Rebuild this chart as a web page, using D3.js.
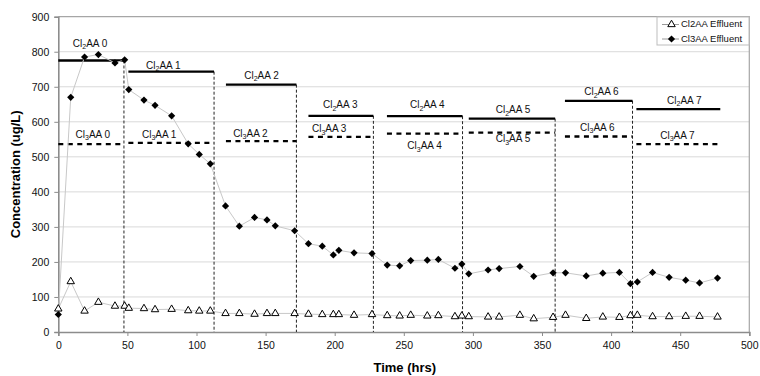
<!DOCTYPE html>
<html>
<head>
<meta charset="utf-8">
<script src="https://cdn.jsdelivr.net/npm/d3@7"></script>
<style>
  body { margin: 0; background: #fff; }
  svg { display: block; font-family: Arial, "Liberation Sans", sans-serif; }
</style>
</head>
<body>
<div id="chart"></div>
<script>
// sampling times (hrs)
const times = [0, 9, 19, 29, 41, 48, 51, 62, 70, 82, 94, 102, 110, 121, 131, 142, 151, 157, 171, 181,
  191, 199, 203, 214, 227, 238, 247, 255, 267, 275, 287, 292, 297, 311, 319, 334, 344, 358, 367,
  382, 394, 406, 414, 419, 430, 442, 454, 464, 477];

// effluent concentrations (ug/L)
const cl2aaEffluent = [66, 144, 60, 85, 74, 74, 68, 67, 64, 65, 61, 60, 60, 53, 53, 51, 53, 53, 53, 51,
  50, 50, 50, 48, 50, 47, 46, 48, 46, 47, 44, 46, 44, 43, 43, 48, 38, 42, 48,
  39, 43, 42, 47, 48, 44, 44, 45, 45, 43];
const cl3aaEffluent = [50, 670, 785, 792, 768, 777, 692, 662, 647, 617, 537, 507, 480, 360, 302, 327, 320, 303, 289, 252,
  245, 220, 233, 226, 224, 191, 189, 204, 205, 207, 182, 194, 166, 177, 181, 187, 159, 169, 169,
  160, 168, 170, 138, 143, 170, 156, 148, 140, 154];

// influent stages
const stageNames = ['0', '1', '2', '3', '4', '5', '6', '7'];
const stageStart = [0, 50.7, 121.3, 181, 237.8, 297, 366.6, 418.3];
const stageEnd = [47.5, 112.7, 172.3, 228, 292.5, 359.5, 415.5, 479];
const cl2aaInfluent = [775, 743, 706, 617, 616, 609, 660, 636];
const cl3aaInfluent = [536, 540, 545, 557, 566, 569, 558, 536];

// where the stage labels sit (hrs, ug/L)
const cl2aaLabelX = [23, 76, 147, 204, 267, 329, 393, 453];
const cl2aaLabelY = [824, 762, 733, 648, 648, 635, 686, 662];
const cl3aaLabelX = [25, 73, 139, 196, 265, 329, 390, 448];
const cl3aaLabelY = [564, 564, 567, 580, 532, 551, 584, 562];

const xTicks = d3.range(0, 501, 50);
const yTicks = d3.range(0, 901, 100);

const width = 760;
const height = 376;

const svg = d3.select('#chart')
  .append('svg')
  .attr('width', width)
  .attr('height', height);

const x = d3.scaleLinear().domain([0, 500]).range([58.3, 749.3]);
const y = d3.scaleLinear().domain([0, 900]).range([332, 16.7]);

// gridlines
svg.append('g')
  .selectAll('line')
  .data(yTicks.slice(1, -1))
  .enter()
  .append('line')
  .attr('x1', x(0))
  .attr('x2', x(500))
  .attr('y1', d => y(d))
  .attr('y2', d => y(d))
  .attr('stroke', '#d9d9d9')
  .attr('stroke-width', 1);

// frame (top + right)
svg.append('path')
  .attr('d', `M${x(0)},${y(900)}H${x(500)}V${y(0)}`)
  .attr('fill', 'none')
  .attr('stroke', '#a6a6a6')
  .attr('stroke-width', 1.2);

// axes
const xAxis = svg.append('g')
  .attr('transform', `translate(0, ${y(0)})`)
  .call(d3.axisBottom(x).tickValues(xTicks).tickSize(4).tickPadding(6).tickFormat(d3.format('d')));

const yAxis = svg.append('g')
  .attr('transform', `translate(${x(0)}, 0)`)
  .call(d3.axisLeft(y).tickValues(yTicks).tickSize(4).tickPadding(5).tickFormat(d3.format('d')));

[xAxis, yAxis].forEach(a => {
  a.select('.domain').attr('stroke', '#8c8c8c').attr('stroke-width', 1.6);
  a.selectAll('.tick line').attr('stroke', '#8c8c8c');
  a.selectAll('.tick text')
    .attr('fill', '#111')
    .attr('font-size', 10.5)
    .attr('font-family', 'Arial, "Liberation Sans", sans-serif');
});

// axis titles
svg.append('text')
  .attr('x', x(250) + 1)
  .attr('y', 369)
  .attr('text-anchor', 'middle')
  .attr('dominant-baseline', 'middle')
  .attr('font-size', 13)
  .attr('font-weight', 'bold')
  .text('Time (hrs)');

svg.append('text')
  .attr('transform', `translate(17, ${(y(0) + y(900)) / 2}) rotate(-90)`)
  .attr('text-anchor', 'middle')
  .attr('dominant-baseline', 'middle')
  .attr('font-size', 13)
  .attr('font-weight', 'bold')
  .text('Concentration (ug/L)');

// stage boundaries
svg.append('g')
  .selectAll('line')
  .data(stageNames.slice(0, -1))
  .enter()
  .append('line')
  .attr('x1', (d, i) => x(stageEnd[i]))
  .attr('x2', (d, i) => x(stageEnd[i]))
  .attr('y1', (d, i) => y(cl2aaInfluent[i]))
  .attr('y2', y(0))
  .attr('stroke', '#222')
  .attr('stroke-width', 1)
  .attr('stroke-dasharray', '3,2');

// influent levels
svg.append('g')
  .selectAll('line')
  .data(stageNames)
  .enter()
  .append('line')
  .attr('x1', (d, i) => x(stageStart[i]))
  .attr('x2', (d, i) => x(stageEnd[i]))
  .attr('y1', (d, i) => y(cl2aaInfluent[i]))
  .attr('y2', (d, i) => y(cl2aaInfluent[i]))
  .attr('stroke', '#000')
  .attr('stroke-width', 2.3);

svg.append('g')
  .selectAll('line')
  .data(stageNames)
  .enter()
  .append('line')
  .attr('x1', (d, i) => x(stageStart[i]))
  .attr('x2', (d, i) => x(stageEnd[i]))
  .attr('y1', (d, i) => y(cl3aaInfluent[i]))
  .attr('y2', (d, i) => y(cl3aaInfluent[i]))
  .attr('stroke', '#000')
  .attr('stroke-width', 2.3)
  .attr('stroke-dasharray', '5,4.5');

// stage labels with subscripts
function stageLabel(g, sub, name, lx, ly) {
  const t = g.append('text')
    .attr('x', x(lx))
    .attr('y', y(ly) + 3.5)
    .attr('text-anchor', 'middle')
    .attr('font-size', 10)
    .attr('fill', '#111');
  t.append('tspan').text('Cl');
  t.append('tspan').attr('font-size', 7).attr('dy', 2.5).text(sub);
  t.append('tspan').attr('dy', -2.5).text('AA ' + name);
}

const labels = svg.append('g');
stageNames.forEach((n, i) => {
  stageLabel(labels, '2', n, cl2aaLabelX[i], cl2aaLabelY[i]);
  stageLabel(labels, '3', n, cl3aaLabelX[i], cl3aaLabelY[i]);
});

// effluent series
const cl2Data = times.map((t, i) => ({ t: t, v: cl2aaEffluent[i] }));
const cl3Data = times.map((t, i) => ({ t: t, v: cl3aaEffluent[i] }));

const line = d3.line().x(d => x(d.t)).y(d => y(d.v));

[cl3Data, cl2Data].forEach(data => {
  svg.append('path')
    .datum(data)
    .attr('d', line)
    .attr('fill', 'none')
    .attr('stroke', '#c8c8c8')
    .attr('stroke-width', 1);
});

const diamond = d3.symbol(d3.symbolSquare, 26);
const triangle = d3.symbol(d3.symbolTriangle, 24);

svg.append('g')
  .selectAll('path')
  .data(cl3Data)
  .enter()
  .append('path')
  .attr('d', diamond)
  .attr('transform', d => `translate(${x(d.t)}, ${y(d.v)}) rotate(45)`)
  .attr('fill', '#000');

svg.append('g')
  .selectAll('path')
  .data(cl2Data)
  .enter()
  .append('path')
  .attr('d', triangle)
  .attr('transform', d => `translate(${x(d.t)}, ${y(d.v)})`)
  .attr('fill', '#fff')
  .attr('stroke', '#000')
  .attr('stroke-width', 1);

// legend
const legendNames = ['Cl2AA Effluent', 'Cl3AA Effluent'];
const legend = svg.append('g')
  .attr('transform', 'translate(657, 17)');

legend.append('rect')
  .attr('width', 92)
  .attr('height', 28)
  .attr('fill', '#fff')
  .attr('stroke', '#bdbdbd')
  .attr('stroke-width', 1);

const item = legend.selectAll('g')
  .data(legendNames)
  .enter()
  .append('g')
  .attr('transform', (d, i) => `translate(0, ${7.5 + i * 14.5})`);

item.append('line')
  .attr('x1', 5)
  .attr('x2', 22)
  .attr('stroke', '#999')
  .attr('stroke-width', 1);

item.append('path')
  .attr('d', (d, i) => i === 0 ? triangle() : diamond())
  .attr('transform', (d, i) => `translate(14.5, 0)${i === 0 ? '' : ' rotate(45)'}`)
  .attr('fill', (d, i) => i === 0 ? '#fff' : '#000')
  .attr('stroke', '#000')
  .attr('stroke-width', (d, i) => i === 0 ? 1 : 0);

item.append('text')
  .attr('x', 24)
  .attr('y', 0)
  .attr('dominant-baseline', 'middle')
  .attr('font-size', 9.5)
  .attr('fill', '#111')
  .text(d => d);
</script>
</body>
</html>
